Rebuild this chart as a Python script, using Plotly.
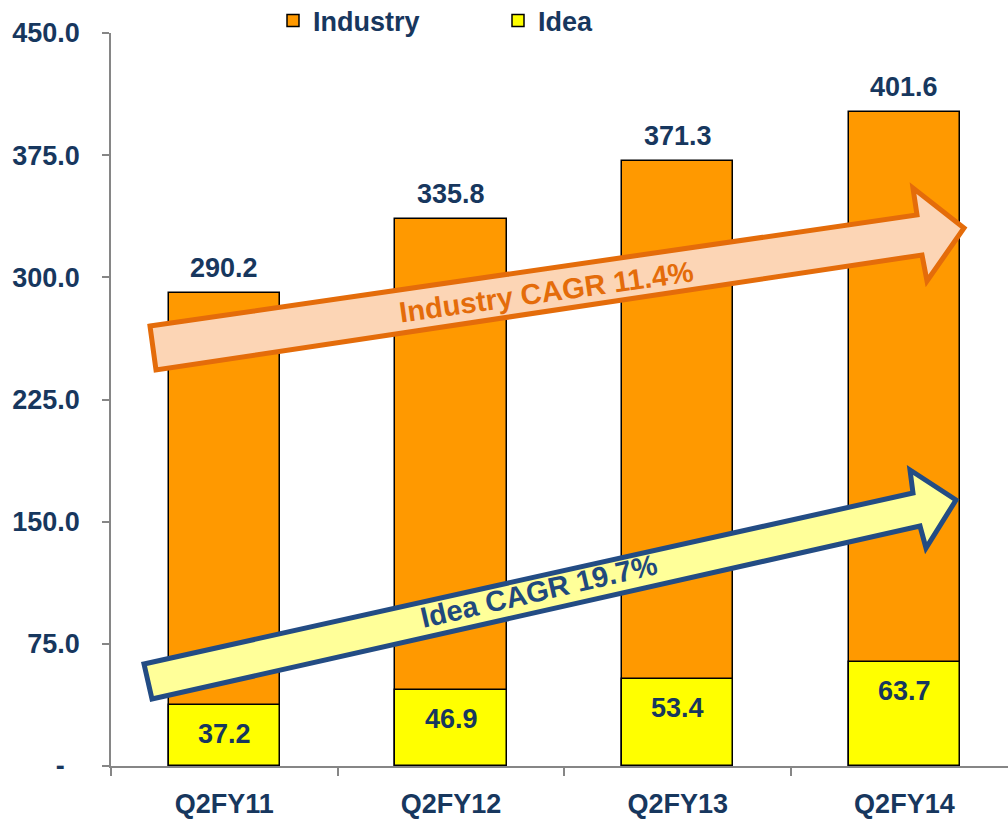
import plotly.graph_objects as go

categories = ["Q2FY11", "Q2FY12", "Q2FY13", "Q2FY14"]
industry = [290.2, 335.8, 371.3, 401.6]
idea = [37.2, 46.9, 53.4, 63.7]
y_tick_vals = [0, 75, 150, 225, 300, 375, 450]
y_tick_text = ["-\u00a0\u00a0", "75.0", "150.0", "225.0", "300.0", "375.0", "450.0"]
industry_cagr_label = "Industry CAGR 11.4%"
idea_cagr_label = "Idea CAGR 19.7%"

NAVY = "#17375E"
FONT = "Liberation Sans, Arial, sans-serif"

# plot area in pixels
L, R, T, B = 111, 1008, 33, 766
W, H = 1008, 819


def px(x, y):
    return (x - L) / (R - L), (B - y) / (B - T)


def path(points):
    pts = [px(x, y) for x, y in points]
    return "M " + " L ".join(f"{a:.5f},{b:.5f}" for a, b in pts) + " Z"


fig = go.Figure()
fig.add_trace(go.Bar(
    x=categories, y=industry, name="Industry",
    marker=dict(color="#FF9900", line=dict(color="#000000", width=1.5)),
    width=0.49,
))
fig.add_trace(go.Bar(
    x=categories, y=idea, name="Idea",
    marker=dict(color="#FFFF00", line=dict(color="#000000", width=1.5)),
    width=0.49,
))

annotations = []
for c, v in zip(categories, industry):
    annotations.append(dict(x=c, y=v, xref="x", yref="y", text=f"{v:.1f}",
                            showarrow=False, yanchor="bottom", yshift=8,
                            font=dict(family=FONT, size=27, color=NAVY, weight="bold")))
for c, v in zip(categories, idea):
    annotations.append(dict(x=c, y=v, xref="x", yref="y", text=f"{v:.1f}",
                            showarrow=False, yanchor="middle", yshift=-29,
                            font=dict(family=FONT, size=27, color=NAVY, weight="bold")))

# decorative CAGR arrows
ind_arrow = [(150, 326), (917, 215), (913, 188), (964, 228), (927, 281), (922, 255), (156, 370)]
idea_arrow = [(144, 664), (913, 493), (910, 470), (956, 500), (926, 548), (920, 526), (152, 699)]
shapes = [
    dict(type="path", xref="paper", yref="paper", path=path(ind_arrow),
         fillcolor="#FCD5B5", line=dict(color="#E46C0A", width=5), layer="above"),
    dict(type="path", xref="paper", yref="paper", path=path(idea_arrow),
         fillcolor="#FFFF99", line=dict(color="#234C84", width=5), layer="above"),
]
ax, ay = px(546, 292)
annotations.append(dict(x=ax, y=ay, xref="paper", yref="paper", text=industry_cagr_label,
                        showarrow=False, textangle=-8, xanchor="center", yanchor="middle",
                        font=dict(family=FONT, size=29, color="#E46C0A", weight="bold")))
bx, by = px(539, 591)
annotations.append(dict(x=bx, y=by, xref="paper", yref="paper", text=idea_cagr_label,
                        showarrow=False, textangle=-13, xanchor="center", yanchor="middle",
                        font=dict(family=FONT, size=29, color="#1F497D", weight="bold")))

lx, ly = px(273, 21)
fig.update_layout(
    width=W, height=H,
    margin=dict(l=L, r=W - R, t=T, b=H - B, pad=0, autoexpand=False),
    paper_bgcolor="white", plot_bgcolor="white",
    barmode="overlay", bargap=0,
    showlegend=True,
    legend=dict(orientation="h", x=lx, y=ly, xanchor="left", yanchor="middle",
                entrywidth=180, entrywidthmode="pixels",
                font=dict(family=FONT, size=27, color=NAVY, weight="bold"),
                bgcolor="rgba(0,0,0,0)"),
    xaxis=dict(type="category", range=[-0.5, 3.457], showline=True, linecolor="#868686",
               linewidth=1.5, ticks="outside", tickson="boundaries", ticklen=8,
               tickcolor="#868686", tickwidth=1.5, showgrid=False, zeroline=False,
               ticklabelstandoff=13, automargin=False,
               tickfont=dict(family=FONT, size=27, color=NAVY, weight="bold")),
    yaxis=dict(range=[0, 450], tickvals=y_tick_vals, ticktext=y_tick_text, showline=True,
               linecolor="#868686", linewidth=1.5, ticks="outside", ticklen=7,
               tickcolor="#868686", tickwidth=1.5, showgrid=False, zeroline=False,
               ticklabelstandoff=17, automargin=False,
               tickfont=dict(family=FONT, size=27, color=NAVY, weight="bold")),
    shapes=shapes,
    annotations=annotations,
)

fig.write_html("out.html", config={"displayModeBar": False},
               post_script="document.body.style.margin='0';document.body.style.overflow='hidden';")
